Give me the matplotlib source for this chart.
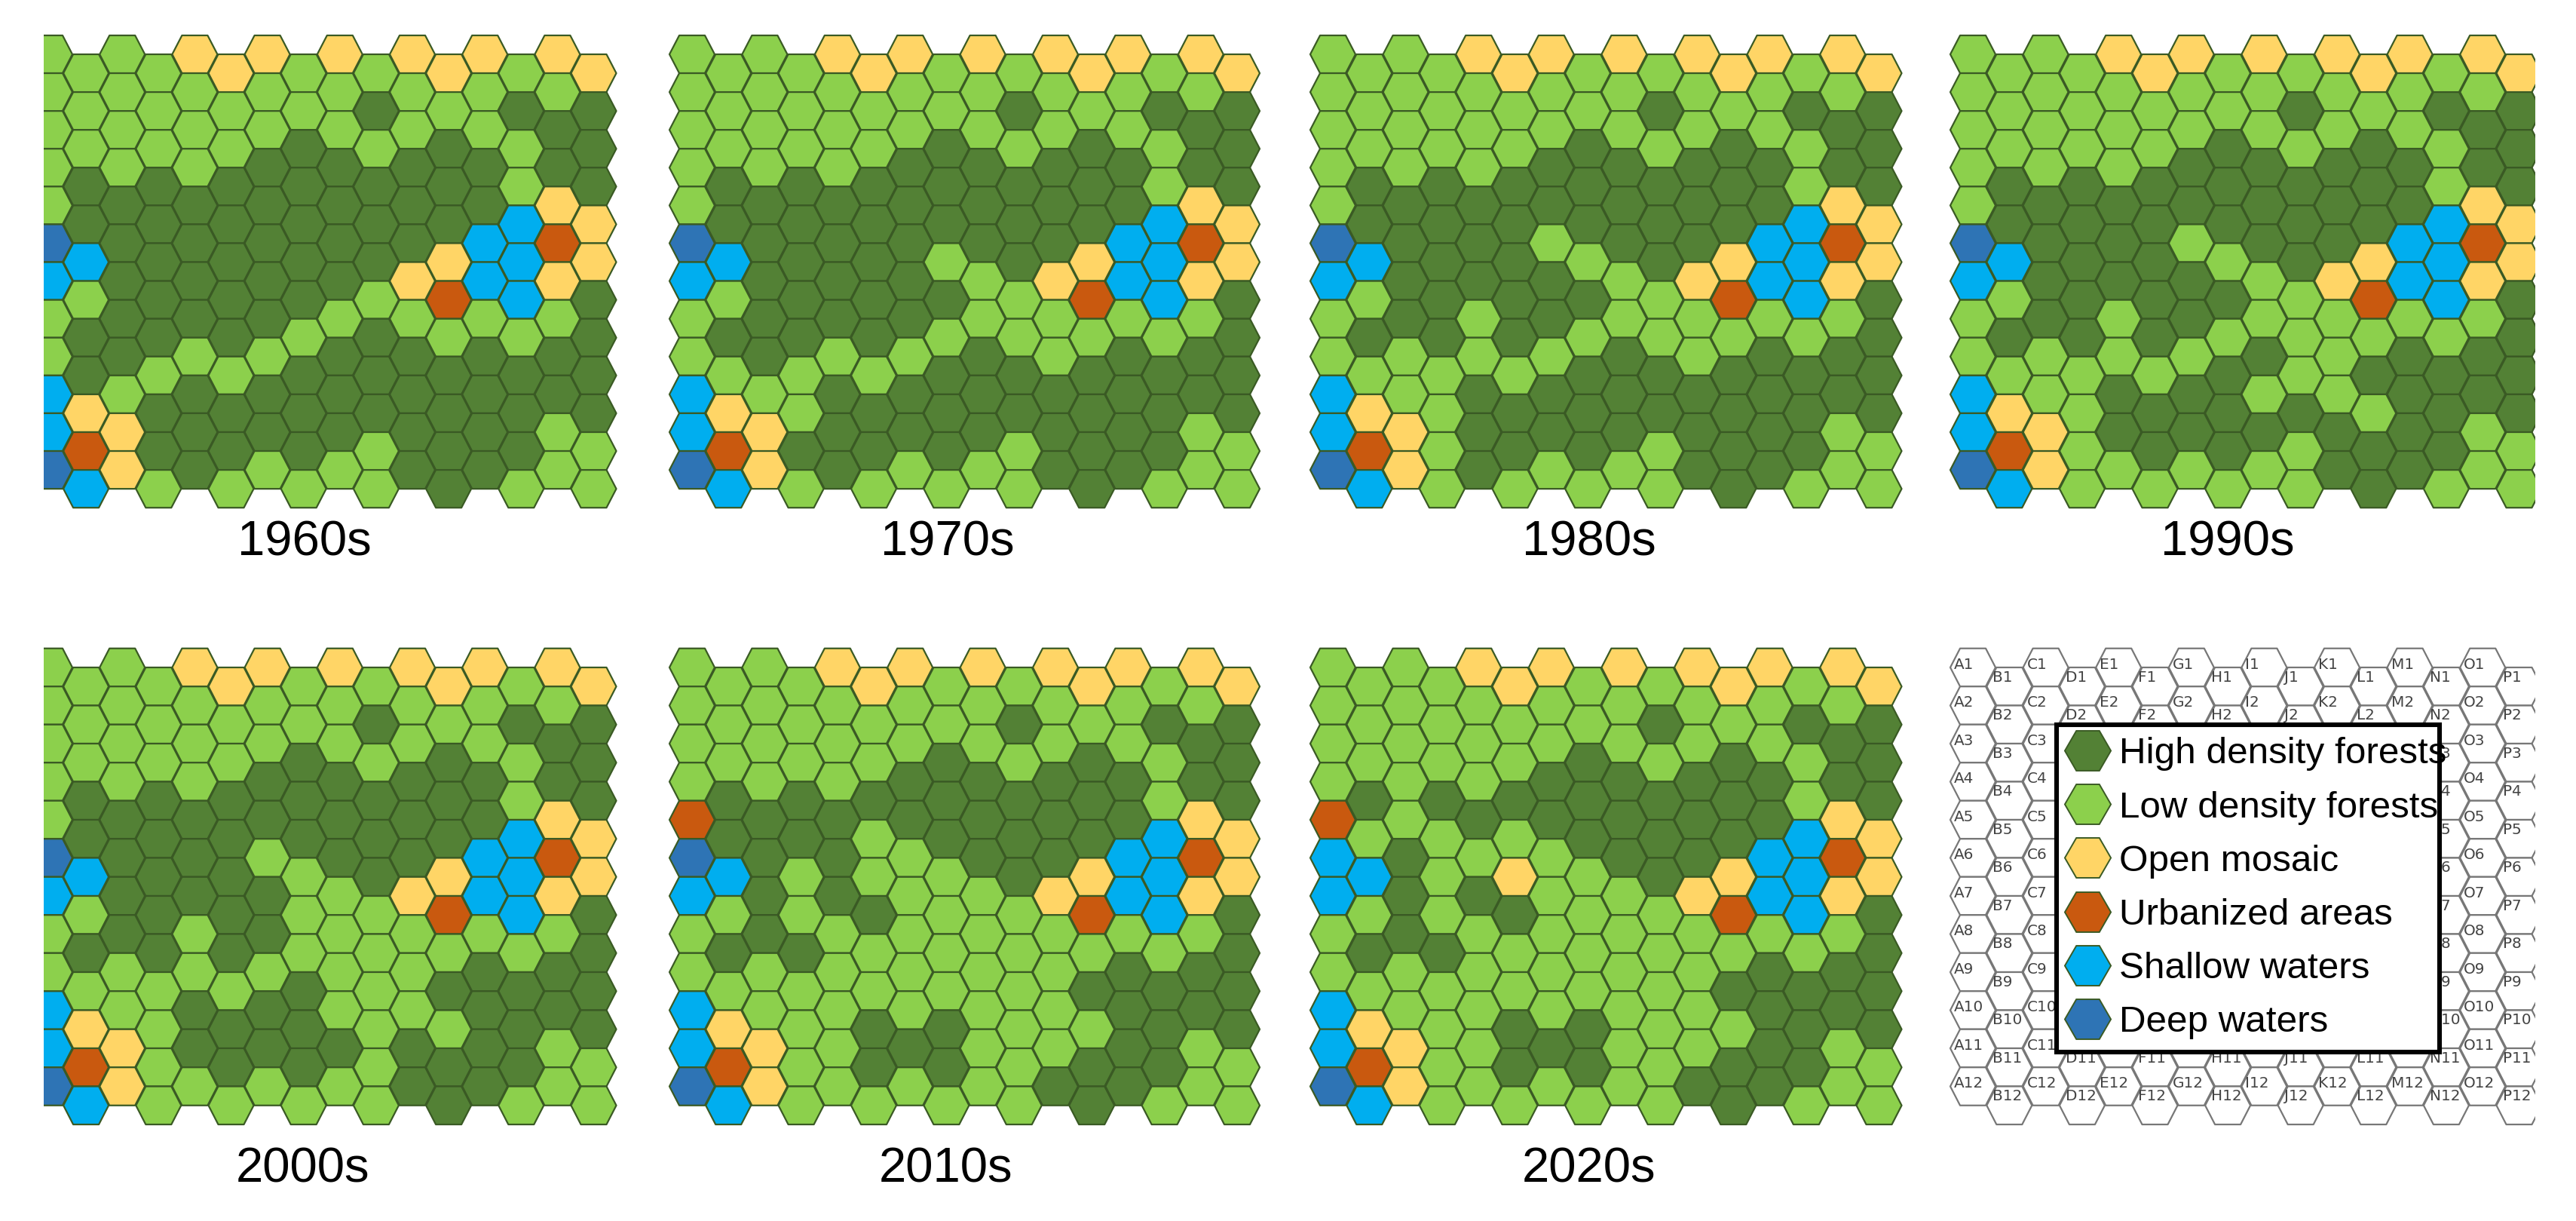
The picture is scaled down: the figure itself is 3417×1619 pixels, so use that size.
import matplotlib
matplotlib.use("Agg")
import matplotlib.pyplot as plt
from matplotlib.collections import PolyCollection
from matplotlib.lines import Line2D

plt.rcParams["font.family"] = ["Liberation Sans", "DejaVu Sans"]

# H high forest, L low forest, O open mosaic, U urban, S shallow, D deep
# one string per column A..P, twelve rows each
cover_1960s = ["LLLLLDSLLSSD", "LLLHHSLHHOUS", "LLLLHHHHHLOO", "LLLHHHHHLHHL",
               "OLLLHHHHLHHH", "OLLHHHHHLHHL", "OLLHHHHHLHHL", "LLHHHHHLHHHL",
               "OLLHHHHLHHHL", "LHLHHHLHHHLL", "OLLHHHOLHHHH", "OLHHHOULHHHH",
               "OLLHHSSLHHHH", "LHLLSSSLHHHL", "OLHHOUOLHHLL", "OHHHOOHHHHLL"]
cover_1970s = ["LLLLLDSLLSSD", "LLLHHSLHLOUS", "LLLLHHHHHLOO", "LLLHHHHHLLHL",
               "OLLLHHHHLHHH", "OLLHHHHHLHHL", "OLLHHHHHLHHL", "LLHHHLHLHHHL",
               "OLLHHHLLHHHL", "LHLHHHLLHHLL", "OLLHHHOLLHHH", "OLHHHOULHHHH",
               "OLLHHSSLHHHH", "LHLLSSSLHHHL", "OLHHOUOLHHLL", "OHHHOOHHHHLL"]
cover_1980s = ["LLLLLDSLLSSD", "LLLHHSLHLOUS", "LLLLHHHHLLOO", "LLLHHHHHLLLL",
               "OLLLHHHLLHHH", "OLLHHHHHLHHL", "OLLHHLHHLHHL", "LLHHHLHLHHHL",
               "OLLHHHLLHHHL", "LHLHHHLLHHLL", "OLLHHHOLLHHH", "OLHHHOULHHHH",
               "OLLHHSSLHHHH", "LHLLSSSLHHHL", "OLHHOUOLHHLL", "OHHHOOHHHHLL"]
cover_1990s = ["LLLLLDSLLSSD", "LLLHHSLHLOUS", "LLLLHHHHLLOO", "LLLHHHHHLLLL",
               "OLLLHHHLLHHL", "OLLHHHHHLHHL", "OLLHHLHHLHHL", "LLHHHLHLHHHL",
               "OLLHHHLLHLHL", "LHLHHHLLLHLL", "OLLHHHOLLLHH", "OLHHHOULHLHH",
               "OLLHHSSLHHHH", "LHLLSSSLHHHL", "OLHHOUOLHHLL", "OHHHOOHHHHLL"]
cover_2000s = ["LLLLLDSLLSSD", "LLLHHSLHLOUS", "LLLLHHHHLLOO", "LLLHHHHHLLLL",
               "OLLLHHHLLHHL", "OLLHHHHHLHHL", "OLLHHLHHLHHL", "LLHHHLLLHHHL",
               "OLLHHHLLLLHL", "LHLHHHLLLLLL", "OLLHHHOLLLHH", "OLHHHOULHLHH",
               "OLLHHSSLHHHH", "LHLLSSSLHHHL", "OLHHOUOLHHLL", "OHHHOOHHHHLL"]
cover_2010s = ["LLLLUDSLLSSD", "LLLHHSLHLOUS", "LLLLHHHHLLOO", "LLLHHLLHLLLL",
               "OLLLHHHLLLLL", "OLLHLLHLLHHL", "OLLHHLLLLLHL", "LLHHHLLLLHHL",
               "OLLHHHLLLLLL", "LHLHHHLLLLLL", "OLLHHHOLLLLH", "OLHHHOULHLHH",
               "OLLHHSSLHHHH", "LHLLSSSLHHHL", "OLHHOUOLHHLL", "OHHHOOHHHHLL"]
cover_2020s = ["LLLLUSSLLSSD", "LLLHLSLHLOUS", "LLLLLHHHLLOO", "LLLHLLLHLLLL",
               "OLLLHLHLLLLL", "OLLHLOHLLHHL", "OLLHHLLLLLHL", "LLHHHLLLLHHL",
               "OLLHHHLLLLLL", "LHLHHHLLLLLL", "OLLHHHOLLLLH", "OLHHHOULHLHH",
               "OLLHHSSLHHHH", "LHLLSSSLHHHL", "OLHHOUOLHHLL", "OHHHOOHHHHLL"]

decades = ["1960s", "1970s", "1980s", "1990s", "2000s", "2010s", "2020s"]
covers = [cover_1960s, cover_1970s, cover_1980s, cover_1990s,
          cover_2000s, cover_2010s, cover_2020s]

columns = list("ABCDEFGHIJKLMNOP")
codes = ["H", "L", "O", "U", "S", "D"]
names = ["High density forests", "Low density forests", "Open mosaic",
         "Urbanized areas", "Shallow waters", "Deep waters"]
colors = ["#538135", "#8CD04C", "#FFD566", "#C9590F", "#00AEEF", "#2E74B5"]
edge = "#3A5A24"

W, H = 3417, 1619
dpi = 200

# pixel layout: centre of A1, column step, row step, clip box
x_first = [66, 918, 1768, 2617, 66, 918, 1768, 2617]
x_step = [48.1, 48.2, 48.3, 48.3, 48.1, 48.2, 48.3, 48.3]
y_first = [72, 72, 72, 72, 885, 885, 885, 885]
y_step = [50.1, 50.1, 50.1, 50.1, 50.5, 50.5, 50.5, 50.5]
clip_left = [58, 880, 1730, 2580, 58, 880, 1730, 2580]
clip_right = [840, 1690, 2540, 3363, 840, 1690, 2540, 3363]
label_x = [404, 1257, 2108, 2955, 402, 1255, 2108]
label_y = [719, 719, 719, 719, 1550, 1550, 1550]

hex_rx = 30
hex_top = 17


def add_panel(i):
  top, bottom = y_first[i] - 40, y_first[i] + 11.5 * y_step[i] + 40
  left, right = clip_left[i], clip_right[i]
  ax = fig.add_axes([left / W, 1 - bottom / H, (right - left) / W, (bottom - top) / H])
  ax.set_xlim((left - x_first[i]) / x_step[i], (right - x_first[i]) / x_step[i])
  ax.set_ylim((bottom - y_first[i]) / y_step[i], (top - y_first[i]) / y_step[i])
  ax.axis("off")
  return ax


def hex_cells(i):
  rx = hex_rx / x_step[i]
  tx = hex_top / x_step[i]
  cells = []
  for c in range(16):
    for r in range(12):
      x = c
      y = r + 0.5 * (c % 2)
      cells.append([(x - rx, y), (x - tx, y - 0.5), (x + tx, y - 0.5),
                    (x + rx, y), (x + tx, y + 0.5), (x - tx, y + 0.5)])
  return cells


fig = plt.figure(figsize=(W / dpi, H / dpi), dpi=dpi, facecolor="white")

for i, cover in enumerate(covers):
  ax = add_panel(i)
  face = [colors[codes.index(k)] for col in cover for k in col]
  ax.add_collection(PolyCollection(hex_cells(i), facecolors=face, edgecolors=edge, linewidths=0.8))
  fig.text(label_x[i] / W, 1 - label_y[i] / H, decades[i], fontsize=23.5, ha="center", va="center", color="black")

# key panel with cell names
ax = add_panel(7)
ax.add_collection(PolyCollection(hex_cells(7), facecolors="white", edgecolors="#777777", linewidths=0.8))
for c, name in enumerate(columns):
  for r in range(12):
    dx = -25 if c % 2 == 0 else -22
    dy = 4 if c % 2 == 0 else 12
    ax.annotate("%s%d" % (name, r + 1), (c, r + 0.5 * (c % 2)), xytext=(dx * 72 / dpi, dy * 72 / dpi),
                textcoords="offset points", fontsize=7.2, family="DejaVu Sans", color="#444444",
                ha="left", va="center", annotation_clip=True, clip_on=True)

handles = [Line2D([], [], linestyle="none", marker="H", markersize=22, markerfacecolor=c,
                  markeredgecolor=edge, markeredgewidth=0.7, label=n) for c, n in zip(colors, names)]
leg = fig.legend(handles=handles, loc="upper left", bbox_to_anchor=(2728 / W, 1 - 1386 / H, 508 / W, 425 / H),
                 mode="expand", borderaxespad=0, fontsize=17.8, labelspacing=0.53, handlelength=0.98,
                 handletextpad=0.36, borderpad=0.33, fancybox=False, framealpha=1, edgecolor="black")
leg.get_frame().set_linewidth(2.2)

fig.savefig("out.png", dpi=dpi)
